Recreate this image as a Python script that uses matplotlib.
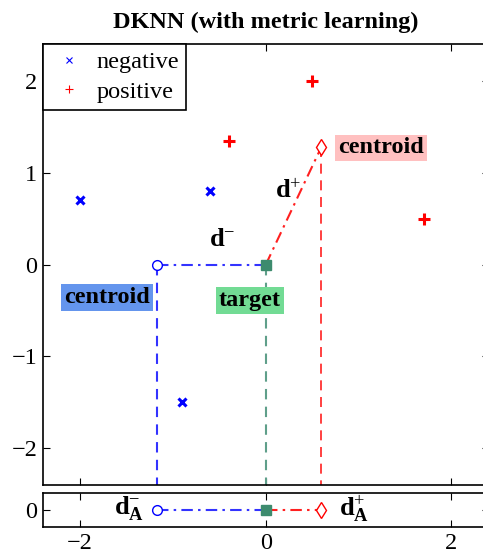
import numpy as np
import matplotlib
matplotlib.use("Agg")
import matplotlib.pyplot as plt
from matplotlib.lines import Line2D

plt.rcParams['font.family'] = ['Liberation Serif', 'DejaVu Serif']
plt.rcParams['mathtext.fontset'] = 'custom'
plt.rcParams['mathtext.rm'] = 'Liberation Serif'
plt.rcParams['mathtext.bf'] = 'Liberation Serif:bold'
plt.rcParams['mathtext.it'] = 'Liberation Serif:italic'

# ----------------------------------------------------------------------------------
# Data
# ----------------------------------------------------------------------------------
neg_x = [-2.0, -0.6, -0.9]
neg_y = [0.7, 0.8, -1.5]
pos_x = [0.5, -0.4, 1.7]
pos_y = [2.0, 1.35, 0.5]
target = (0.0, 0.0)

neg_c = (np.mean(neg_x), np.mean(neg_y))
pos_c = (np.mean(pos_x), np.mean(pos_y))

BLUE = '#3333ff'
RED = '#ff2020'
TEAL = '#3d8b6e'
FS = 17.5
DASHDOT = (5.5, 2.5, 1.2, 2.5)

fig = plt.figure(figsize=(4.83, 5.58), dpi=100)
ax = fig.add_axes([0.089, 0.1308, 0.9226, 0.790])
axb = fig.add_axes([0.089, 0.0556, 0.9226, 0.061])

# ----------------------------------------------------------------------------------
# Main panel
# ----------------------------------------------------------------------------------
ax.plot(neg_x, neg_y, 'x', color='blue', ms=6, mew=2.2, zorder=4)
ax.plot(pos_x, pos_y, '+', color='red', ms=8, mew=2.2, zorder=4)

# vertical projections
ax.plot([neg_c[0], neg_c[0]], [neg_c[1], -2.4], color=BLUE, lw=1.5, dashes=(5, 3.5))
ax.plot([target[0], target[0]], [target[1], -2.4], color='#5f9f8a', lw=1.5, dashes=(5, 3.5))
ax.plot([pos_c[0], pos_c[0]], [pos_c[1], -2.4], color=RED, lw=1.2, dashes=(6, 4))

# distances to centroids
ax.plot([neg_c[0], target[0]], [neg_c[1], target[1]], color=BLUE, lw=1.5, dashes=DASHDOT)
ax.plot([target[0], pos_c[0]], [target[1], pos_c[1]], color=RED, lw=1.5, dashes=DASHDOT)

ax.plot(*neg_c, 'o', mfc='white', mec='blue', ms=7, mew=1, zorder=5)
ax.plot(*pos_c, 'd', mfc='white', mec='red', ms=8, mew=1, zorder=5)
ax.plot(*target, 's', color=TEAL, ms=7.5, zorder=5)

ax.text(-1.25, -0.36, 'centroid', ha='right', va='center', fontsize=FS, fontweight='bold',
        bbox=dict(boxstyle='square,pad=0.12', fc='#6495ed', ec='none'))
ax.text(-0.17, -0.39, 'target', ha='center', va='center', fontsize=FS, fontweight='bold',
        bbox=dict(boxstyle='square,pad=0.12', fc='#72db94', ec='none'))
ax.text(0.78, 1.27, 'centroid', ha='left', va='center', fontsize=FS, fontweight='bold',
        bbox=dict(boxstyle='square,pad=0.12', fc='#ffc0c0', ec='none'))
ax.text(-0.47, 0.27, r'$\mathbf{d}^{-}$', ha='center', va='center', fontsize=19)
ax.text(0.24, 0.8, r'$\mathbf{d}^{+}$', ha='center', va='center', fontsize=19)

ax.set_xlim(-2.4, 2.4)
ax.set_ylim(-2.4, 2.4)
ax.set_xticks([-2, 0, 2])
ax.set_xticklabels([])
ax.set_yticks([-2, -1, 0, 1, 2])
ax.set_yticklabels(['\u22122', '\u22121', '0', '1', '2'])
ax.tick_params(direction='in', top=True, right=True, labelsize=FS, length=5, pad=4)
for s in ax.spines.values():
    s.set_linewidth(1.2)

handles = [Line2D([], [], ls='none', marker='x', color='blue', ms=4, mew=0.8),
           Line2D([], [], ls='none', marker='+', color='red', ms=6, mew=0.8)]
leg = ax.legend(handles, ['negative', 'positive'], loc='upper left', borderaxespad=0,
                fancybox=False, edgecolor='black', framealpha=1, fontsize=FS,
                handlelength=1.5, handletextpad=0.4, borderpad=0.3, labelspacing=0.3)
leg.get_frame().set_linewidth(1.2)

ax.set_title('DKNN (with metric learning)', fontsize=FS, fontweight='bold', pad=12)

# ----------------------------------------------------------------------------------
# Projected panel
# ----------------------------------------------------------------------------------
axb.plot([neg_c[0], target[0]], [0, 0], color=BLUE, lw=1.5, dashes=DASHDOT)
axb.plot([target[0], pos_c[0]], [0, 0], color=RED, lw=1.5, dashes=DASHDOT)
axb.plot(neg_c[0], 0, 'o', mfc='white', mec='blue', ms=7, mew=1, zorder=5)
axb.plot(pos_c[0], 0, 'd', mfc='white', mec='red', ms=8, mew=1, zorder=5)
axb.plot(target[0], 0, 's', color=TEAL, ms=7.5, zorder=5)
axb.text(-1.47, 0.05, r'$\mathbf{d}_\mathbf{A}^{-}$', ha='center', va='center', fontsize=19, clip_on=False)
axb.text(0.95, 0.05, r'$\mathbf{d}_\mathbf{A}^{+}$', ha='center', va='center', fontsize=19, clip_on=False)

axb.set_xlim(-2.4, 2.4)
axb.set_ylim(-0.5, 0.5)
axb.set_xticks([-2, 0, 2])
axb.set_xticklabels(['\u22122', '0', '2'])
axb.set_yticks([0])
axb.tick_params(direction='in', top=True, right=True, labelsize=FS, length=5, pad=4)
for s in axb.spines.values():
    s.set_linewidth(1.2)

fig.savefig('out.png', dpi=100)
